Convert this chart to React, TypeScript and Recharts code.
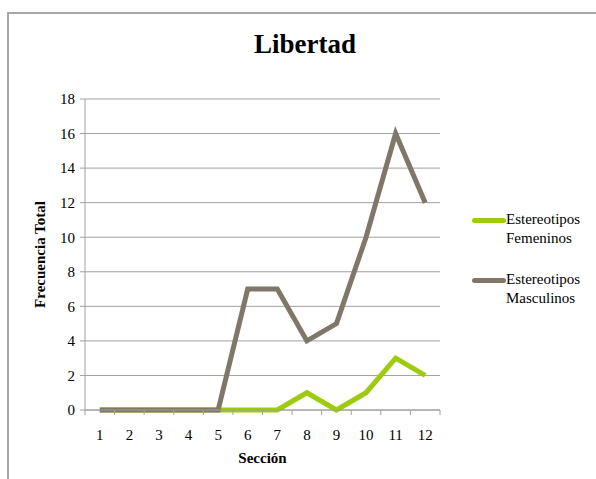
import React from "react";
import { LineChart, Line, XAxis, YAxis, CartesianGrid, Label } from "recharts";

const sections = [1, 2, 3, 4, 5, 6, 7, 8, 9, 10, 11, 12];
const femeninos = [0, 0, 0, 0, 0, 0, 0, 1, 0, 1, 3, 2];
const masculinos = [0, 0, 0, 0, 0, 7, 7, 4, 5, 10, 16, 12];
const yTicks = [0, 2, 4, 6, 8, 10, 12, 14, 16, 18];
const seriesNames = ["Estereotipos Femeninos", "Estereotipos Masculinos"];
const colors = ["#9DCB0E", "#7F7768"];

const data = sections.map((s, i) => ({ s, fem: femeninos[i], mas: masculinos[i] }));

const FONT = '"Liberation Serif", "Times New Roman", serif';
const PLOT_L = 85;
const PLOT_R = 440;
const STEP = (PLOT_R - PLOT_L) / sections.length;

const XTick = (props: any) => {
  const { x, y, payload, index } = props;
  return (
    <g>
      <line x1={x - STEP / 2} y1={y - 8} x2={x - STEP / 2} y2={y - 3} stroke="#A0A0A0" strokeWidth={1} />
      {index === sections.length - 1 && (
        <line x1={x + STEP / 2} y1={y - 8} x2={x + STEP / 2} y2={y - 3} stroke="#A0A0A0" strokeWidth={1} />
      )}
      <text x={x} y={y + 22} textAnchor="middle" fontFamily={FONT} fontSize={15} fill="#000">
        {payload.value}
      </text>
    </g>
  );
};

const LegendBox = () => (
  <div
    style={{
      position: "absolute",
      left: 472,
      top: 210,
      width: 124,
      fontFamily: FONT,
      fontSize: 15,
      color: "#000",
      lineHeight: "19px",
    }}
  >
    {seriesNames.map((n, i) => {
      const [a, b] = n.split(" ");
      return (
        <div key={n} style={{ display: "flex", alignItems: "flex-start", marginBottom: i === 0 ? 22 : 0 }}>
          <div style={{ width: 34, height: 5, borderRadius: 3, background: colors[i], marginTop: 8 }} />
          <div>
            <div>{a}</div>
            <div>{b}</div>
          </div>
        </div>
      );
    })}
  </div>
);

export default function App() {
  return (
    <div style={{ position: "absolute", left: 0, top: 0, width: 596, height: 479, overflow: "hidden", background: "#fff" }}>
      <div
        style={{
          position: "absolute",
          left: 7,
          top: 12,
          width: 620,
          height: 500,
          border: "2px solid #A8A8A8",
          boxSizing: "border-box",
        }}
      />
      <div
        style={{
          position: "absolute",
          left: 205,
          width: 200,
          top: 29,
          textAlign: "center",
          fontFamily: FONT,
          fontWeight: "bold",
          fontSize: 27,
          color: "#000",
        }}
      >
        Libertad
      </div>
      <div style={{ position: "absolute", left: 0, top: 0 }}>
        <LineChart
          width={596}
          height={479}
          data={data}
          margin={{ top: 99, right: 596 - PLOT_R, bottom: 0, left: 0 }}
        >
          <CartesianGrid vertical={false} stroke="#A0A0A0" strokeWidth={1} />
          <XAxis
            dataKey="s"
            type="number"
            domain={[0.5, 12.5]}
            ticks={sections}
            tickLine={false}
            tick={<XTick />}
            stroke="#A0A0A0"
            height={69}
            allowDataOverflow
          >
            <Label
              value="Sección"
              position="insideTop"
              offset={42}
              style={{ fontFamily: FONT, fontWeight: "bold", fontSize: 15, fill: "#000" }}
            />
          </XAxis>
          <YAxis
            domain={[0, 18]}
            ticks={yTicks}
            width={PLOT_L}
            stroke="#A0A0A0"
            tickSize={5}
            tickMargin={5}
            tick={{ fontFamily: FONT, fontSize: 15, fill: "#000" }}
            interval={0}
          >
            <Label
              value="Frecuencia Total"
              angle={-90}
              position="insideLeft"
              offset={40}
              style={{ textAnchor: "middle", fontFamily: FONT, fontWeight: "bold", fontSize: 15, fill: "#000" }}
            />
          </YAxis>
          <Line
            dataKey="fem"
            name={seriesNames[0]}
            stroke={colors[0]}
            strokeWidth={5}
            dot={false}
            isAnimationActive={false}
            strokeLinejoin="miter"
          />
          <Line
            dataKey="mas"
            name={seriesNames[1]}
            stroke={colors[1]}
            strokeWidth={5}
            dot={false}
            isAnimationActive={false}
            strokeLinejoin="miter"
          />
        </LineChart>
      </div>
      <LegendBox />
    </div>
  );
}
